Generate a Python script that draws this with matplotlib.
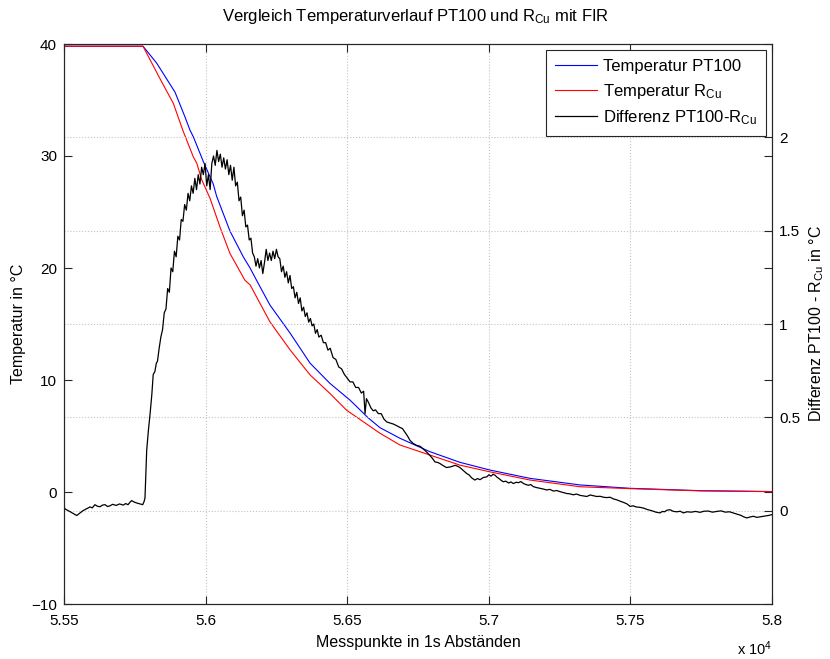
import matplotlib
matplotlib.use("Agg")
import matplotlib.pyplot as plt

plt.rcParams['font.family'] = ['Liberation Sans', 'DejaVu Sans']
plt.rcParams['mathtext.fontset'] = 'custom'
plt.rcParams['mathtext.rm'] = 'Liberation Sans'
plt.rcParams['mathtext.it'] = 'Liberation Sans:italic'
plt.rcParams['mathtext.bf'] = 'Liberation Sans:bold'

# ---- data -------------------------------------------------------------
pt100_samples = [55500, 55779, 55827, 55892, 55927, 55945, 55957, 55992, 56027, 56039,
                 56086, 56133, 56157, 56180, 56227, 56298, 56369, 56439, 56510, 56575,
                 56616, 56686, 56792, 56898, 57004, 57145, 57322, 57499, 57746, 58000]
pt100_temp = [39.8, 39.8, 38.3, 35.7, 33.5, 32.3, 31.7, 29.5, 27.5, 26.4,
              23.3, 21.0, 20.0, 18.9, 16.7, 14.2, 11.5, 9.7, 8.2, 6.6,
              5.74, 4.8, 3.6, 2.65, 1.96, 1.22, 0.63, 0.33, 0.12, 0.04]

rcu_samples = [55500, 55779, 55839, 55886, 55921, 55957, 55969, 55986, 56016, 56053,
               56086, 56139, 56157, 56227, 56298, 56369, 56439, 56498, 56616, 56686,
               56792, 56898, 57004, 57145, 57322, 57499, 57746, 58000]
rcu_temp = [39.8, 39.8, 36.9, 34.7, 32.2, 29.9, 29.35, 27.9, 26.2, 23.5,
            21.3, 18.9, 18.5, 15.2, 12.7, 10.45, 8.8, 7.3, 5.24, 4.2,
            3.3, 2.4, 1.8, 1.07, 0.47, 0.3, 0.1, 0.03]

diff_samples = [
    55500, 55504, 55521, 55545, 55567, 55592, 55600, 55609, 55618, 55627,
    55636, 55645, 55654, 55662, 55672, 55684, 55696, 55709, 55718, 55726,
    55733, 55739, 55748, 55757, 55768, 55778, 55783, 55786, 55789, 55792,
    55798, 55804, 55810, 55815, 55821, 55826,
    55830, 55836, 55842, 55848, 55854, 55860, 55866, 55872, 55878, 55884,
    55890, 55896, 55902, 55908, 55914, 55920, 55926, 55932, 55938, 55944,
    55950, 55956, 55962, 55968, 55974, 55980, 55986, 55992, 55998, 56004,
    56010, 56016, 56022, 56028, 56034, 56040, 56046, 56052, 56058, 56064,
    56070, 56076, 56082, 56088, 56094, 56100, 56106, 56112, 56118, 56124,
    56130, 56136, 56142, 56148, 56154, 56160, 56166, 56172, 56178, 56184,
    56190, 56196, 56202, 56208, 56214, 56220, 56226, 56232, 56238, 56244,
    56250, 56256, 56262, 56268, 56274, 56280, 56286, 56292, 56298, 56304,
    56310, 56316, 56322, 56328, 56334, 56340, 56346, 56352, 56358, 56364,
    56370, 56376, 56382, 56388, 56394, 56400, 56408, 56416, 56424, 56432,
    56440, 56450, 56460, 56470, 56480, 56490, 56500, 56510, 56520, 56530,
    56540, 56550, 56558, 56563, 56568, 56575, 56584, 56592, 56600, 56610,
    56620, 56630, 56640, 56650, 56663, 56675, 56686, 56695, 56704, 56713,
    56722, 56733, 56745, 56757, 56769, 56780, 56792, 56801, 56810, 56820,
    56828, 56840, 56851, 56866, 56881, 56890,
    56898, 56910, 56922, 56930, 56940, 56951, 56960, 56969, 56981, 56993,
    57000, 57008, 57015, 57022, 57030, 57036, 57044, 57051, 57060, 57070,
    57078, 57087, 57096, 57105, 57113, 57122, 57131, 57140, 57148, 57157,
    57168, 57180, 57192, 57204, 57216, 57228, 57240, 57251, 57263, 57275,
    57287, 57298, 57310, 57322, 57334, 57346, 57358, 57370, 57381, 57393,
    57405, 57416, 57428, 57440, 57452, 57465, 57476, 57487, 57499, 57510,
    57520, 57533, 57546, 57560, 57575, 57590, 57605, 57613, 57620, 57630,
    57640, 57652, 57665, 57676, 57687, 57700, 57715, 57730, 57746, 57760,
    57775, 57790, 57805, 57820, 57835, 57850, 57863, 57876, 57890, 57900,
    57911, 57922, 57935, 57946, 57958, 57970, 57980, 57990, 58000]
diff_values = [
    0.021, 0.009, -0.005, -0.026, 0.000, 0.020, 0.015, 0.032, 0.024, 0.021,
    0.030, 0.032, 0.022, 0.026, 0.034, 0.028, 0.036, 0.030, 0.038, 0.032,
    0.045, 0.054, 0.046, 0.041, 0.036, 0.032, 0.050, 0.069, 0.200, 0.323,
    0.430, 0.519, 0.620, 0.729, 0.746, 0.790,
    0.80, 0.87, 0.93, 0.97, 1.06, 1.08, 1.19, 1.17, 1.30, 1.28,
    1.39, 1.36, 1.47, 1.45, 1.56, 1.55, 1.64, 1.61, 1.70, 1.66,
    1.74, 1.70, 1.78, 1.72, 1.80, 1.75, 1.84, 1.80, 1.86, 1.74,
    1.80, 1.72, 1.86, 1.90, 1.85, 1.93, 1.87, 1.91, 1.84, 1.89,
    1.83, 1.88, 1.80, 1.85, 1.77, 1.84, 1.74, 1.76, 1.66, 1.68,
    1.58, 1.61, 1.52, 1.53, 1.45, 1.46, 1.38, 1.36, 1.31, 1.35,
    1.30, 1.34, 1.27, 1.33, 1.40, 1.34, 1.38, 1.34, 1.39, 1.35,
    1.40, 1.36, 1.35, 1.28, 1.31, 1.25, 1.28, 1.22, 1.26, 1.19,
    1.20, 1.14, 1.17, 1.11, 1.14, 1.07, 1.09, 1.04, 1.06, 1.01,
    1.03, 0.99, 1.00, 0.95, 0.97, 0.93, 0.94, 0.90, 0.90, 0.86,
    0.87, 0.82, 0.81, 0.77, 0.76, 0.73, 0.71, 0.69, 0.69, 0.66,
    0.66, 0.63, 0.64, 0.52, 0.60, 0.58, 0.55, 0.535, 0.54, 0.52,
    0.52, 0.49, 0.475, 0.47, 0.464, 0.455, 0.446, 0.44, 0.42, 0.40,
    0.376, 0.36, 0.35, 0.345, 0.33, 0.315, 0.296, 0.28, 0.261, 0.258,
    0.252, 0.24, 0.231, 0.235, 0.243, 0.238,
    0.231, 0.215, 0.199, 0.192, 0.175, 0.164, 0.172, 0.166, 0.178, 0.181,
    0.192, 0.185, 0.195, 0.190, 0.178, 0.172, 0.162, 0.155, 0.158, 0.148,
    0.154, 0.145, 0.152, 0.150, 0.156, 0.146, 0.140, 0.136, 0.140, 0.129,
    0.124, 0.120, 0.116, 0.111, 0.114, 0.105, 0.108, 0.102, 0.097, 0.092,
    0.090, 0.085, 0.089, 0.082, 0.079, 0.076, 0.084, 0.080, 0.076, 0.077,
    0.072, 0.070, 0.072, 0.063, 0.058, 0.050, 0.044, 0.037, 0.023, 0.026,
    0.020, 0.018, 0.014, 0.006, 0.000, -0.008, -0.012, -0.004, -0.006, 0.003,
    0.005, -0.004, -0.006, -0.003, -0.012, -0.006, -0.008, -0.004, -0.009, -0.003,
    -0.002, -0.008, -0.004, -0.001, -0.008, -0.006, -0.012, -0.018, -0.025, -0.033,
    -0.039, -0.034, -0.030, -0.036, -0.033, -0.030, -0.028, -0.025, -0.021]

x_ticks = [55500, 56000, 56500, 57000, 57500, 58000]
x_tick_labels = ['5.55', '5.6', '5.65', '5.7', '5.75', '5.8']
left_ticks = [-10, 0, 10, 20, 30, 40]
right_ticks = [0, 0.5, 1, 1.5, 2]
right_tick_labels = ['0', '0.5', '1', '1.5', '2']

# ---- figure -----------------------------------------------------------
fig = plt.figure(figsize=(8.3, 6.59), dpi=100)
ax1 = fig.add_axes([64 / 830, 1 - 604 / 659, 708 / 830, 560 / 659])
ax2 = ax1.twinx()

grid_kw = dict(color='#c4c4c4', linestyle=':', linewidth=0.8)

l1, = ax1.plot(pt100_samples, pt100_temp, color='#0000ff', lw=0.8)
l2, = ax1.plot(rcu_samples, rcu_temp, color='#ff0000', lw=0.8)
l3, = ax2.plot(diff_samples, diff_values, color='black', lw=0.9)

ax1.set_xlim(55500, 58000)
ax1.set_ylim(-10, 40)
ax2.set_ylim(-0.5, 2.5)

ax1.set_xticks(x_ticks)
ax1.set_xticklabels(x_tick_labels)
ax1.set_yticks(left_ticks)
ax2.set_yticks(right_ticks)
ax2.set_yticklabels(right_tick_labels)

ax1.xaxis.grid(True, **grid_kw)
ax2.yaxis.grid(True, **grid_kw)
ax2.set_axisbelow(True)

ax1.tick_params(direction='in', length=6, width=0.8, labelsize=11,
                top=True, right=True, labelright=False, colors='#262626',
                labelcolor='black')
ax1.tick_params(axis='x', pad=7)
ax1.tick_params(axis='y', pad=5)
ax2.tick_params(direction='in', length=6, width=0.8, labelsize=11,
                right=True, left=False, pad=5, colors='#262626', labelcolor='black')

for ax in (ax1, ax2):
    for sp in ax.spines.values():
        sp.set_color('#262626')
        sp.set_linewidth(0.8)

ax1.set_xlabel('Messpunkte in 1s Abständen', fontsize=11.5, va='center')
ax1.xaxis.set_label_coords(0.5, (604 - 643) / 560)
ax1.set_ylabel('Temperatur in °C', fontsize=11.5, va='center')
ax1.yaxis.set_label_coords((18 - 64) / 708, 0.5)
ax2.set_ylabel(r'Differenz PT100 - R$_{\mathrm{Cu}}$ in °C', fontsize=11.5, va='center')
ax2.yaxis.set_label_coords((817 - 64) / 708, 0.5)
fig.text(0.5 * (64 + 772) / 830 - 0.003, 1 - 17 / 659,
         r'Vergleich Temperaturverlauf PT100 und R$_{\mathrm{Cu}}$ mit FIR',
         fontsize=12, ha='center', va='center')

fig.text(737 / 830, 1 - 649 / 659, r'x 10$^{4}$', fontsize=10.5, va='center', ha='left')

leg = ax2.legend([l1, l2, l3],
                 ['Temperatur PT100', r'Temperatur R$_{\mathrm{Cu}}$',
                  r'Differenz PT100-R$_{\mathrm{Cu}}$'],
                 loc='upper right', bbox_to_anchor=(766 / 830, 1 - 50 / 659),
                 bbox_transform=fig.transFigure, fontsize=12,
                 handlelength=2.5, handletextpad=0.35, borderpad=0.55,
                 labelspacing=0.45, fancybox=False, framealpha=1,
                 edgecolor='#262626', borderaxespad=0)
leg.get_frame().set_linewidth(0.8)

fig.savefig('out.png', dpi=100)
